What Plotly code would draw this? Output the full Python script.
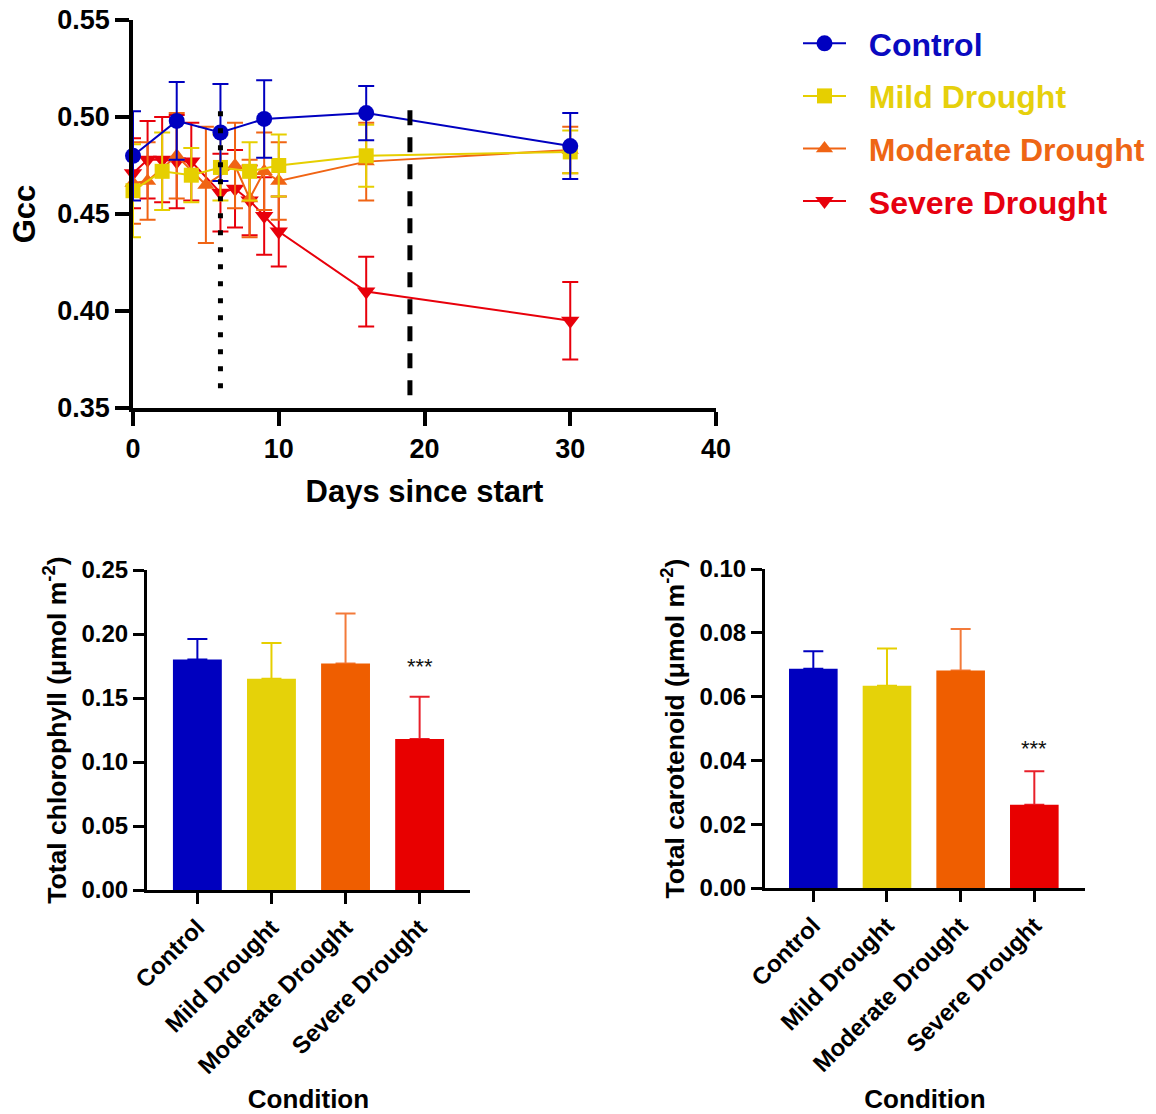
import plotly.graph_objects as go

# ---------------- data ----------------
conditions = ["Control", "Mild Drought", "Moderate Drought", "Severe Drought"]

control_days = [0, 3, 6, 9, 16, 30]
control_gcc = [0.480, 0.498, 0.492, 0.499, 0.502, 0.485]
control_err = [0.023, 0.020, 0.025, 0.020, 0.014, 0.017]

mild_days = [0, 2, 4, 6, 8, 10, 16, 30]
mild_gcc = [0.462, 0.472, 0.470, 0.474, 0.472, 0.475, 0.480, 0.482]
mild_err = [0.024, 0.020, 0.014, 0.017, 0.015, 0.016, 0.016, 0.011]

moderate_days = [0, 1, 3, 5, 7, 8, 9, 10, 16, 30]
moderate_gcc = [0.466, 0.467, 0.480, 0.465, 0.475, 0.458, 0.472, 0.467, 0.477, 0.483]
moderate_err = [0.021, 0.020, 0.022, 0.030, 0.022, 0.020, 0.020, 0.020, 0.020, 0.012]

severe_days = [0, 1, 2, 3, 4, 6, 7, 8, 9, 10, 16, 30]
severe_gcc = [0.471, 0.478, 0.478, 0.477, 0.477, 0.461, 0.463, 0.457, 0.449, 0.441, 0.410, 0.395]
severe_err = [0.018, 0.020, 0.022, 0.024, 0.020, 0.020, 0.020, 0.018, 0.020, 0.018, 0.018, 0.020]

treatment_start_day = 6
treatment_end_day = 19

chlorophyll = [0.180, 0.165, 0.177, 0.118]
chlorophyll_err = [0.016, 0.028, 0.039, 0.033]

carotenoid = [0.0687, 0.0634, 0.0682, 0.0261]
carotenoid_err = [0.0055, 0.0117, 0.0130, 0.0105]

significance = ["", "", "", "***"]

# ---------------- styles ----------------
line_colors = ["#0000C0", "#E6CF00", "#F06414", "#E8000B"]
bar_colors = ["#0000BF", "#E5D209", "#EF5E00", "#E80000"]
errbar_colors = ["#0000C0", "#E6CF00", "#F37A3A", "#E8202A"]
text_colors = ["#0A0AC0", "#E6D00C", "#EE6614", "#E60010"]
symbols = ["circle", "square", "triangle-up", "triangle-down"]
msizes = [16, 15, 15, 16]
FONT = "Liberation Sans, Arial, sans-serif"

W, H = 1156, 1114

fig = go.Figure()

series = [
    (control_days, control_gcc, control_err),
    (mild_days, mild_gcc, mild_err),
    (moderate_days, moderate_gcc, moderate_err),
    (severe_days, severe_gcc, severe_err),
]

# draw severe first so control is on top; legend ordered by rank
for i in reversed(range(4)):
    d, v, e = series[i]
    fig.add_trace(go.Scatter(
        x=d, y=v, mode="lines+markers",
        name=f"&nbsp;&nbsp;<span style='color:{text_colors[i]}'><b>{conditions[i]}</b></span>",
        legendgroup=conditions[i], legendrank=i + 1,
        line=dict(color=line_colors[i], width=2),
        marker=dict(symbol=symbols[i], size=msizes[i], color=line_colors[i]),
        error_y=dict(type="data", array=e, visible=True, color=line_colors[i],
                     thickness=2, width=8),
        cliponaxis=False,
        xaxis="x", yaxis="y",
    ))

# bars: error bars drawn first (under), then the coloured bars on top
for i in range(4):
    for vals, errs, xa, ya in [(chlorophyll, chlorophyll_err, "x2", "y2"),
                               (carotenoid, carotenoid_err, "x3", "y3")]:
        fig.add_trace(go.Bar(
            x=[conditions[i]], y=[vals[i]], width=0.66,
            marker=dict(color="rgba(0,0,0,0)", line=dict(width=0)),
            error_y=dict(type="data", symmetric=False, array=[errs[i]],
                         arrayminus=[0], color=errbar_colors[i], thickness=2, width=10),
            showlegend=False, hoverinfo="skip", xaxis=xa, yaxis=ya,
        ))
for i in range(4):
    for vals, xa, ya in [(chlorophyll, "x2", "y2"), (carotenoid, "x3", "y3")]:
        fig.add_trace(go.Bar(
            x=[conditions[i]], y=[vals[i]], width=0.66,
            marker=dict(color=bar_colors[i], line=dict(width=0)),
            showlegend=False, xaxis=xa, yaxis=ya,
        ))

annotations = []
for i in range(4):
    if significance[i]:
        annotations.append(dict(
            x=conditions[i], y=chlorophyll[i] + chlorophyll_err[i] + 0.024,
            xref="x2", yref="y2", text=significance[i], showarrow=False,
            font=dict(family=FONT, size=22, color="#111111"), yanchor="middle"))
        annotations.append(dict(
            x=conditions[i], y=carotenoid[i] + carotenoid_err[i] + 0.0071,
            xref="x3", yref="y3", text=significance[i], showarrow=False,
            font=dict(family=FONT, size=22, color="#111111"), yanchor="middle"))

shapes = [
    dict(type="line", xref="x", yref="y", x0=treatment_start_day, x1=treatment_start_day,
         y0=0.503, y1=0.358, line=dict(color="black", width=5, dash="5px,12px")),
    dict(type="line", xref="x", yref="y", x0=treatment_end_day, x1=treatment_end_day,
         y0=0.5035, y1=0.351, line=dict(color="black", width=5, dash="15px,12px")),
]

def px_x(a, b):
    return [a / W, b / W]

def px_y(top, bottom):
    return [1 - bottom / H, 1 - top / H]

axis_common = dict(showline=True, linecolor="black", showgrid=False, zeroline=False,
                   ticks="outside", tickcolor="black", mirror=False, automargin=False)

fig.update_layout(
    width=W, height=H,
    margin=dict(l=0, r=0, t=0, b=0, autoexpand=False),
    paper_bgcolor="white", plot_bgcolor="white",
    barmode="overlay",
    font=dict(family=FONT, color="black"),
    showlegend=True,
    legend=dict(x=798 / W, y=1 - 16 / H, xanchor="left", yanchor="top",
                font=dict(family=FONT, size=32), tracegroupgap=8,
                bgcolor="rgba(0,0,0,0)", itemwidth=43),
    xaxis=dict(domain=px_x(133, 716), range=[0, 40], tickvals=[0, 10, 20, 30, 40],
               linewidth=3.5, tickwidth=3.5, ticklen=14,
               tickfont=dict(size=27, family=FONT, weight="bold"),
               title=dict(text="<b>Days since start</b>", font=dict(size=31, family=FONT), standoff=18),
               anchor="y", **axis_common),
    yaxis=dict(domain=px_y(20, 408), range=[0.35, 0.55],
               tickvals=[0.35, 0.40, 0.45, 0.50, 0.55], tickformat=".2f",
               linewidth=3.5, tickwidth=3.5, ticklen=14,
               tickfont=dict(size=27, family=FONT, weight="bold"),
               title=dict(text="<b>Gcc</b>", font=dict(size=31, family=FONT), standoff=13),
               anchor="x", **axis_common),
    xaxis2=dict(domain=px_x(147, 470), range=[-0.68, 3.68], categoryorder="array",
                categoryarray=conditions, tickangle=-45,
                linewidth=3, tickwidth=3, ticklen=11,
                tickfont=dict(size=24, family=FONT, weight="bold"),
                title=dict(text="<b>Condition</b>", font=dict(size=26, family=FONT), standoff=17),
                anchor="y2", **axis_common),
    yaxis2=dict(domain=px_y(570, 890), range=[0, 0.25],
                tickvals=[0, 0.05, 0.10, 0.15, 0.20, 0.25], tickformat=".2f",
                linewidth=3, tickwidth=3, ticklen=11,
                tickfont=dict(size=24, family=FONT, weight="bold"),
                title=dict(text="<b>Total chlorophyll (μmol m<sup>-2</sup>)</b>",
                           font=dict(size=26.5, family=FONT), standoff=8),
                anchor="x2", **axis_common),
    xaxis3=dict(domain=px_x(765, 1085), range=[-0.656, 3.688], categoryorder="array",
                categoryarray=conditions, tickangle=-45,
                linewidth=3, tickwidth=3, ticklen=11,
                tickfont=dict(size=24, family=FONT, weight="bold"),
                title=dict(text="<b>Condition</b>", font=dict(size=26, family=FONT), standoff=15),
                anchor="y3", **axis_common),
    yaxis3=dict(domain=px_y(569, 888), range=[0, 0.10],
                tickvals=[0, 0.02, 0.04, 0.06, 0.08, 0.10], tickformat=".2f",
                linewidth=3, tickwidth=3, ticklen=11,
                tickfont=dict(size=24, family=FONT, weight="bold"),
                title=dict(text="<b>Total carotenoid (μmol m<sup>-2</sup>)</b>",
                           font=dict(size=26.5, family=FONT), standoff=8),
                anchor="x3", **axis_common),
    annotations=annotations,
    shapes=shapes,
)

fig.write_html("out.html")
